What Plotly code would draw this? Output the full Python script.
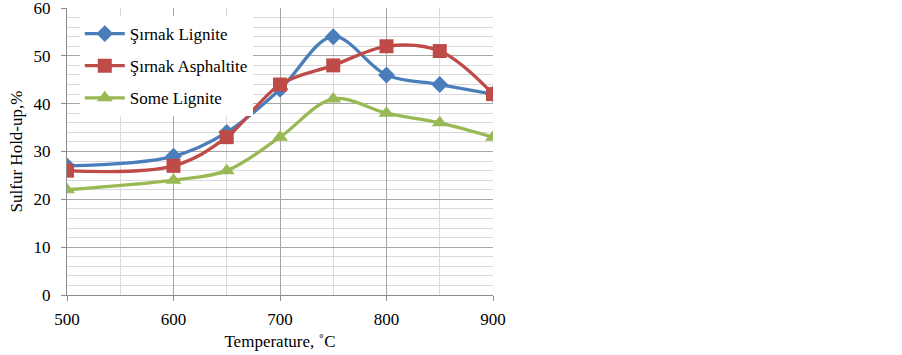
import plotly.graph_objects as go

temps = [500, 600, 650, 700, 750, 800, 850, 900]
sirnak_lignite = [27, 29, 34, 43, 54, 46, 44, 42]
sirnak_asphaltite = [26, 27, 33, 44, 48, 52, 51, 42]
some_lignite = [22, 24, 26, 33, 41, 38, 36, 33]

series = [
    ("Şırnak Lignite", sirnak_lignite, "#4A7EBB", "diamond", 13),
    ("Şırnak Asphaltite", sirnak_asphaltite, "#BE4B48", "square", 14),
    ("Some Lignite", some_lignite, "#98B954", "triangle-up", 14),
]

fig = go.Figure()
for i, (name, vals, col, sym, sz) in enumerate(series):
    fig.add_trace(go.Scatter(
        x=temps, y=vals, name=name, mode="lines+markers",
        legendgroup=f"g{i}",
        line=dict(color=col, width=3.3, shape="spline", smoothing=1),
        marker=dict(color=col, symbol=sym, size=sz, line=dict(width=0)),
    ))

font_family = "Liberation Serif, Times New Roman, serif"
fig.update_layout(
    width=902, height=355,
    margin=dict(l=67, r=409, t=8, b=60),
    paper_bgcolor="white", plot_bgcolor="white",
    font=dict(family=font_family, size=17, color="black"),
    showlegend=True,
    legend=dict(
        x=0.03, y=0.972, xanchor="left", yanchor="top",
        bgcolor="white", borderwidth=0,
        font=dict(family=font_family, size=17, color="black"),
        traceorder="grouped", tracegroupgap=7,
        itemwidth=40,
    ),
    xaxis=dict(
        range=[500, 900], dtick=100, tick0=500,
        showgrid=True, gridcolor="#A6A6A6", gridwidth=1,
        minor=dict(dtick=50, showgrid=True, gridcolor="#D9D9D9", gridwidth=1),
        showline=True, linecolor="#8C8C8C", linewidth=1,
        ticks="outside", ticklen=5, tickcolor="#8C8C8C",
        zeroline=False, ticklabelstandoff=4, automargin=False,
        ticklabeloverflow="allow",
        title=dict(text="Temperature, ˚C", font=dict(size=17), standoff=6),
    ),
    yaxis=dict(
        range=[0, 60], dtick=10, tick0=0,
        showgrid=True, gridcolor="#A6A6A6", gridwidth=1,
        minor=dict(dtick=2, showgrid=True, gridcolor="#D9D9D9", gridwidth=1),
        showline=True, linecolor="#8C8C8C", linewidth=1,
        ticks="outside", ticklen=5, tickcolor="#8C8C8C",
        zeroline=False, ticklabelstandoff=7, automargin=False,
        ticklabeloverflow="allow",
        title=dict(text="Sulfur Hold-up,%", font=dict(size=17), standoff=6),
    ),
)

fig.write_html("out.html", config={"displayModeBar": False},
               post_script="document.body.style.margin='0';")
